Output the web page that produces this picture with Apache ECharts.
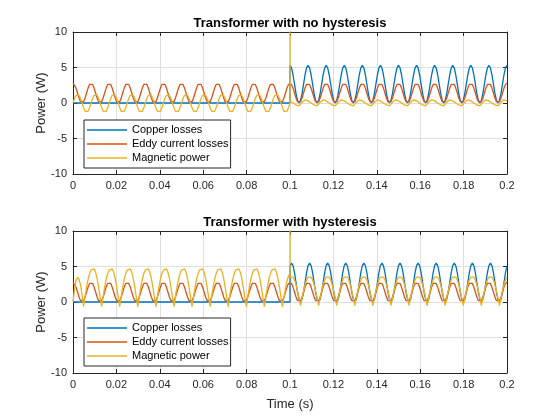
<!DOCTYPE html>
<html>
<head>
<meta charset="utf-8">
<title>Transformer losses</title>
<script src="https://cdn.jsdelivr.net/npm/echarts@6/dist/echarts.min.js"></script>
<style>
  html, body { margin: 0; padding: 0; background: #fff; }
  #main { width: 560px; height: 420px; }
</style>
</head>
<body>
<div id="main"></div>
<script>
// names and tick labels
const seriesNames = ['Copper losses', 'Eddy current losses', 'Magnetic power'];
const plotTitles = ['Transformer with no hysteresis', 'Transformer with hysteresis'];
const timeTicks = [0, 0.02, 0.04, 0.06, 0.08, 0.1, 0.12, 0.14, 0.16, 0.18, 0.2];
const powerTicks = [-10, -5, 0, 5, 10];

// sample instants: 12 samples per 120 Hz power period, load switched in at 0.1 s
// (0.1 s appears three times: value before, at and after the switching)
const sampleStep = 1 / 1440;
const switchTime = 0.1;
const time = [];
for (let i = 0; i < 144; i++) time.push(i * sampleStep);
time.push(switchTime, switchTime, switchTime);
for (let i = 145; i <= 288; i++) time.push(i * sampleStep);

// values (W); rows = one 1/120 s period
const copperTop = [
  0, 0, 0, 0, 0, 0, 0, 0, 0, 0, 0, 0,
  0, 0, 0, 0, 0, 0, 0, 0, 0, 0, 0, 0,
  0, 0, 0, 0, 0, 0, 0, 0, 0, 0, 0, 0,
  0, 0, 0, 0, 0, 0, 0, 0, 0, 0, 0, 0,
  0, 0, 0, 0, 0, 0, 0, 0, 0, 0, 0, 0,
  0, 0, 0, 0, 0, 0, 0, 0, 0, 0, 0, 0,
  0, 0, 0, 0, 0, 0, 0, 0, 0, 0, 0, 0,
  0, 0, 0, 0, 0, 0, 0, 0, 0, 0, 0, 0,
  0, 0, 0, 0, 0, 0, 0, 0, 0, 0, 0, 0,
  0, 0, 0, 0, 0, 0, 0, 0, 0, 0, 0, 0,
  0, 0, 0, 0, 0, 0, 0, 0, 0, 0, 0, 0,
  0, 0, 0, 0, 0, 0, 0, 0, 0, 0, 0, 0,
  0, 5.3, 5.3,
  4.95, 3.98, 2.65, 1.33, 0.36, 0, 0.36, 1.33, 2.65, 3.98, 4.95, 5.3,
  4.95, 3.98, 2.65, 1.33, 0.36, 0, 0.36, 1.33, 2.65, 3.98, 4.95, 5.3,
  4.95, 3.98, 2.65, 1.33, 0.36, 0, 0.36, 1.33, 2.65, 3.98, 4.95, 5.3,
  4.95, 3.98, 2.65, 1.33, 0.36, 0, 0.36, 1.33, 2.65, 3.98, 4.95, 5.3,
  4.95, 3.98, 2.65, 1.33, 0.36, 0, 0.36, 1.33, 2.65, 3.98, 4.95, 5.3,
  4.95, 3.98, 2.65, 1.33, 0.36, 0, 0.36, 1.33, 2.65, 3.98, 4.95, 5.3,
  4.95, 3.98, 2.65, 1.33, 0.36, 0, 0.36, 1.33, 2.65, 3.98, 4.95, 5.3,
  4.95, 3.98, 2.65, 1.33, 0.36, 0, 0.36, 1.33, 2.65, 3.98, 4.95, 5.3,
  4.95, 3.98, 2.65, 1.33, 0.36, 0, 0.36, 1.33, 2.65, 3.98, 4.95, 5.3,
  4.95, 3.98, 2.65, 1.33, 0.36, 0, 0.36, 1.33, 2.65, 3.98, 4.95, 5.3,
  4.95, 3.98, 2.65, 1.33, 0.36, 0, 0.36, 1.33, 2.65, 3.98, 4.95, 5.3,
  4.95, 3.98, 2.65, 1.33, 0.36, 0, 0.36, 1.33, 2.65, 3.98, 4.95, 5.3
];

const copperBottom = [
  0, 0, 0, 0, 0, 0, 0, 0, 0, 0, 0, 0,
  0, 0, 0, 0, 0, 0, 0, 0, 0, 0, 0, 0,
  0, 0, 0, 0, 0, 0, 0, 0, 0, 0, 0, 0,
  0, 0, 0, 0, 0, 0, 0, 0, 0, 0, 0, 0,
  0, 0, 0, 0, 0, 0, 0, 0, 0, 0, 0, 0,
  0, 0, 0, 0, 0, 0, 0, 0, 0, 0, 0, 0,
  0, 0, 0, 0, 0, 0, 0, 0, 0, 0, 0, 0,
  0, 0, 0, 0, 0, 0, 0, 0, 0, 0, 0, 0,
  0, 0, 0, 0, 0, 0, 0, 0, 0, 0, 0, 0,
  0, 0, 0, 0, 0, 0, 0, 0, 0, 0, 0, 0,
  0, 0, 0, 0, 0, 0, 0, 0, 0, 0, 0, 0,
  0, 0, 0, 0, 0, 0, 0, 0, 0, 0, 0, 0,
  0, 5.13, 5.13,
  5.5, 5.13, 4.13, 2.75, 1.38, 0.37, 0, 0.37, 1.38, 2.75, 4.13, 5.13,
  5.5, 5.13, 4.13, 2.75, 1.38, 0.37, 0, 0.37, 1.38, 2.75, 4.13, 5.13,
  5.5, 5.13, 4.13, 2.75, 1.38, 0.37, 0, 0.37, 1.38, 2.75, 4.13, 5.13,
  5.5, 5.13, 4.13, 2.75, 1.38, 0.37, 0, 0.37, 1.38, 2.75, 4.13, 5.13,
  5.5, 5.13, 4.13, 2.75, 1.38, 0.37, 0, 0.37, 1.38, 2.75, 4.13, 5.13,
  5.5, 5.13, 4.13, 2.75, 1.38, 0.37, 0, 0.37, 1.38, 2.75, 4.13, 5.13,
  5.5, 5.13, 4.13, 2.75, 1.38, 0.37, 0, 0.37, 1.38, 2.75, 4.13, 5.13,
  5.5, 5.13, 4.13, 2.75, 1.38, 0.37, 0, 0.37, 1.38, 2.75, 4.13, 5.13,
  5.5, 5.13, 4.13, 2.75, 1.38, 0.37, 0, 0.37, 1.38, 2.75, 4.13, 5.13,
  5.5, 5.13, 4.13, 2.75, 1.38, 0.37, 0, 0.37, 1.38, 2.75, 4.13, 5.13,
  5.5, 5.13, 4.13, 2.75, 1.38, 0.37, 0, 0.37, 1.38, 2.75, 4.13, 5.13,
  5.5, 5.13, 4.13, 2.75, 1.38, 0.37, 0, 0.37, 1.38, 2.75, 4.13, 5.13
];

// eddy current losses look the same in both plots
const eddyLoss = [
  2.8, 2.61, 2.1, 1.4, 0.7, 0.19, 0, 0.19, 0.7, 1.4, 2.1, 2.61,
  2.8, 2.61, 2.1, 1.4, 0.7, 0.19, 0, 0.19, 0.7, 1.4, 2.1, 2.61,
  2.8, 2.61, 2.1, 1.4, 0.7, 0.19, 0, 0.19, 0.7, 1.4, 2.1, 2.61,
  2.8, 2.61, 2.1, 1.4, 0.7, 0.19, 0, 0.19, 0.7, 1.4, 2.1, 2.61,
  2.8, 2.61, 2.1, 1.4, 0.7, 0.19, 0, 0.19, 0.7, 1.4, 2.1, 2.61,
  2.8, 2.61, 2.1, 1.4, 0.7, 0.19, 0, 0.19, 0.7, 1.4, 2.1, 2.61,
  2.8, 2.61, 2.1, 1.4, 0.7, 0.19, 0, 0.19, 0.7, 1.4, 2.1, 2.61,
  2.8, 2.61, 2.1, 1.4, 0.7, 0.19, 0, 0.19, 0.7, 1.4, 2.1, 2.61,
  2.8, 2.61, 2.1, 1.4, 0.7, 0.19, 0, 0.19, 0.7, 1.4, 2.1, 2.61,
  2.8, 2.61, 2.1, 1.4, 0.7, 0.19, 0, 0.19, 0.7, 1.4, 2.1, 2.61,
  2.8, 2.61, 2.1, 1.4, 0.7, 0.19, 0, 0.19, 0.7, 1.4, 2.1, 2.61,
  2.8, 2.61, 2.1, 1.4, 0.7, 0.19, 0, 0.19, 0.7, 1.4, 2.1, 2.61,
  2.8, 2.8, 2.8,
  2.61, 2.1, 1.4, 0.7, 0.19, 0, 0.19, 0.7, 1.4, 2.1, 2.61, 2.8,
  2.61, 2.1, 1.4, 0.7, 0.19, 0, 0.19, 0.7, 1.4, 2.1, 2.61, 2.8,
  2.61, 2.1, 1.4, 0.7, 0.19, 0, 0.19, 0.7, 1.4, 2.1, 2.61, 2.8,
  2.61, 2.1, 1.4, 0.7, 0.19, 0, 0.19, 0.7, 1.4, 2.1, 2.61, 2.8,
  2.61, 2.1, 1.4, 0.7, 0.19, 0, 0.19, 0.7, 1.4, 2.1, 2.61, 2.8,
  2.61, 2.1, 1.4, 0.7, 0.19, 0, 0.19, 0.7, 1.4, 2.1, 2.61, 2.8,
  2.61, 2.1, 1.4, 0.7, 0.19, 0, 0.19, 0.7, 1.4, 2.1, 2.61, 2.8,
  2.61, 2.1, 1.4, 0.7, 0.19, 0, 0.19, 0.7, 1.4, 2.1, 2.61, 2.8,
  2.61, 2.1, 1.4, 0.7, 0.19, 0, 0.19, 0.7, 1.4, 2.1, 2.61, 2.8,
  2.61, 2.1, 1.4, 0.7, 0.19, 0, 0.19, 0.7, 1.4, 2.1, 2.61, 2.8,
  2.61, 2.1, 1.4, 0.7, 0.19, 0, 0.19, 0.7, 1.4, 2.1, 2.61, 2.8,
  2.61, 2.1, 1.4, 0.7, 0.19, 0, 0.19, 0.7, 1.4, 2.1, 2.61, 2.8
];

const magneticTop = [
  0, 0.63, 1.08, 1.25, 1.08, 0.63, 0, -0.68, -1.17, -1.35, -1.17, -0.68,
  0, 0.63, 1.08, 1.25, 1.08, 0.63, 0, -0.68, -1.17, -1.35, -1.17, -0.68,
  0, 0.63, 1.08, 1.25, 1.08, 0.63, 0, -0.68, -1.17, -1.35, -1.17, -0.68,
  0, 0.63, 1.08, 1.25, 1.08, 0.63, 0, -0.68, -1.17, -1.35, -1.17, -0.68,
  0, 0.63, 1.08, 1.25, 1.08, 0.63, 0, -0.68, -1.17, -1.35, -1.17, -0.68,
  0, 0.63, 1.08, 1.25, 1.08, 0.63, 0, -0.68, -1.17, -1.35, -1.17, -0.68,
  0, 0.63, 1.08, 1.25, 1.08, 0.63, 0, -0.68, -1.17, -1.35, -1.17, -0.68,
  0, 0.63, 1.08, 1.25, 1.08, 0.63, 0, -0.68, -1.17, -1.35, -1.17, -0.68,
  0, 0.63, 1.08, 1.25, 1.08, 0.63, 0, -0.68, -1.17, -1.35, -1.17, -0.68,
  0, 0.63, 1.08, 1.25, 1.08, 0.63, 0, -0.68, -1.17, -1.35, -1.17, -0.68,
  0, 0.63, 1.08, 1.25, 1.08, 0.63, 0, -0.68, -1.17, -1.35, -1.17, -0.68,
  0, 0.63, 1.08, 1.25, 1.08, 0.63, 0, -0.68, -1.17, -1.35, -1.17, -0.68,
  0, 200, 0.3,
  0.15, 0, -0.15, -0.28, -0.37, -0.4, -0.2, 0.1, 0.35, 0.45, 0.4, 0.3,
  0.15, 0, -0.15, -0.28, -0.37, -0.4, -0.2, 0.1, 0.35, 0.45, 0.4, 0.3,
  0.15, 0, -0.15, -0.28, -0.37, -0.4, -0.2, 0.1, 0.35, 0.45, 0.4, 0.3,
  0.15, 0, -0.15, -0.28, -0.37, -0.4, -0.2, 0.1, 0.35, 0.45, 0.4, 0.3,
  0.15, 0, -0.15, -0.28, -0.37, -0.4, -0.2, 0.1, 0.35, 0.45, 0.4, 0.3,
  0.15, 0, -0.15, -0.28, -0.37, -0.4, -0.2, 0.1, 0.35, 0.45, 0.4, 0.3,
  0.15, 0, -0.15, -0.28, -0.37, -0.4, -0.2, 0.1, 0.35, 0.45, 0.4, 0.3,
  0.15, 0, -0.15, -0.28, -0.37, -0.4, -0.2, 0.1, 0.35, 0.45, 0.4, 0.3,
  0.15, 0, -0.15, -0.28, -0.37, -0.4, -0.2, 0.1, 0.35, 0.45, 0.4, 0.3,
  0.15, 0, -0.15, -0.28, -0.37, -0.4, -0.2, 0.1, 0.35, 0.45, 0.4, 0.3,
  0.15, 0, -0.15, -0.28, -0.37, -0.4, -0.2, 0.1, 0.35, 0.45, 0.4, 0.3,
  0.15, 0, -0.15, -0.28, -0.37, -0.4, -0.2, 0.1, 0.35, 0.45, 0.4, 0.3
];

const magneticBottom = [
  0, 1.8, 3.0, 3.5, 3.2, 2.4, 1.0, -0.65, 0.8, 2.1, 3.2, 4.0,
  4.5, 4.72, 4.68, 4.2, 3.3, 2.1, 0.7, -0.65, 0.8, 2.1, 3.2, 4.0,
  4.5, 4.72, 4.68, 4.2, 3.3, 2.1, 0.7, -0.65, 0.8, 2.1, 3.2, 4.0,
  4.5, 4.72, 4.68, 4.2, 3.3, 2.1, 0.7, -0.65, 0.8, 2.1, 3.2, 4.0,
  4.5, 4.72, 4.68, 4.2, 3.3, 2.1, 0.7, -0.65, 0.8, 2.1, 3.2, 4.0,
  4.5, 4.72, 4.68, 4.2, 3.3, 2.1, 0.7, -0.65, 0.8, 2.1, 3.2, 4.0,
  4.5, 4.72, 4.68, 4.2, 3.3, 2.1, 0.7, -0.65, 0.8, 2.1, 3.2, 4.0,
  4.5, 4.72, 4.68, 4.2, 3.3, 2.1, 0.7, -0.65, 0.8, 2.1, 3.2, 4.0,
  4.5, 4.72, 4.68, 4.2, 3.3, 2.1, 0.7, -0.65, 0.8, 2.1, 3.2, 4.0,
  4.5, 4.72, 4.68, 4.2, 3.3, 2.1, 0.7, -0.65, 0.8, 2.1, 3.2, 4.0,
  4.5, 4.72, 4.68, 4.2, 3.3, 2.1, 0.7, -0.65, 0.8, 2.1, 3.2, 4.0,
  4.5, 4.72, 4.68, 4.2, 3.3, 2.1, 0.7, -0.65, 0.7, 1.9, 3.0, 3.7,
  4.0, 200, 3.51,
  3.65, 3.51, 3.09, 2.43, 1.58, 0.57, -0.5, 0.57, 1.58, 2.43, 3.09, 3.51,
  3.65, 3.51, 3.09, 2.43, 1.58, 0.57, -0.5, 0.57, 1.58, 2.43, 3.09, 3.51,
  3.65, 3.51, 3.09, 2.43, 1.58, 0.57, -0.5, 0.57, 1.58, 2.43, 3.09, 3.51,
  3.65, 3.51, 3.09, 2.43, 1.58, 0.57, -0.5, 0.57, 1.58, 2.43, 3.09, 3.51,
  3.65, 3.51, 3.09, 2.43, 1.58, 0.57, -0.5, 0.57, 1.58, 2.43, 3.09, 3.51,
  3.65, 3.51, 3.09, 2.43, 1.58, 0.57, -0.5, 0.57, 1.58, 2.43, 3.09, 3.51,
  3.65, 3.51, 3.09, 2.43, 1.58, 0.57, -0.5, 0.57, 1.58, 2.43, 3.09, 3.51,
  3.65, 3.51, 3.09, 2.43, 1.58, 0.57, -0.5, 0.57, 1.58, 2.43, 3.09, 3.51,
  3.65, 3.51, 3.09, 2.43, 1.58, 0.57, -0.5, 0.57, 1.58, 2.43, 3.09, 3.51,
  3.65, 3.51, 3.09, 2.43, 1.58, 0.57, -0.5, 0.57, 1.58, 2.43, 3.09, 3.51,
  3.65, 3.51, 3.09, 2.43, 1.58, 0.57, -0.5, 0.57, 1.58, 2.43, 3.09, 3.51,
  3.65, 3.51, 3.09, 2.43, 1.58, 0.57, -0.5, 0.57, 1.58, 2.43, 3.09, 3.51
];

const plots = [
  [copperTop, eddyLoss, magneticTop],
  [copperBottom, eddyLoss, magneticBottom]
];

const colors = ['#0072BD', '#D95319', '#EDB120'];
const axisColor = '#262626';
const gridColor = '#dfdfdf';
const font = '"Liberation Sans", Arial, Helvetica, sans-serif';
const gridTops = [32, 231];
const legendTops = [120, 318];

const pairs = vals => vals.map((v, k) => [time[k], v]);

function timeAxis(g, position, main) {
  return {
    type: 'value',
    gridIndex: g,
    position: position,
    min: timeTicks[0],
    max: timeTicks[timeTicks.length - 1],
    interval: timeTicks[1] - timeTicks[0],
    axisLine: { show: true, onZero: false, lineStyle: { color: axisColor, width: 1 } },
    axisTick: { show: true, inside: true, length: 4, lineStyle: { color: axisColor } },
    axisLabel: { show: main, color: axisColor, fontSize: 11, fontFamily: font, margin: 6 },
    splitLine: { show: main, lineStyle: { color: gridColor, width: 1 } },
    name: main ? (g === 1 ? 'Time (s)' : '') : plotTitles[g],
    nameLocation: 'middle',
    nameGap: main ? 25 : 2,
    nameMoveOverlap: false,
    nameTextStyle: main
      ? { color: axisColor, fontSize: 13, fontFamily: font }
      : { color: '#000', fontSize: 13, fontWeight: 'bold', fontFamily: font }
  };
}

function powerAxis(g, position, main) {
  return {
    type: 'value',
    gridIndex: g,
    position: position,
    min: powerTicks[0],
    max: powerTicks[powerTicks.length - 1],
    interval: powerTicks[1] - powerTicks[0],
    axisLine: { show: true, onZero: false, lineStyle: { color: axisColor, width: 1 } },
    axisTick: { show: true, inside: true, length: 4, lineStyle: { color: axisColor } },
    axisLabel: { show: main, color: axisColor, fontSize: 11, fontFamily: font, margin: 6 },
    splitLine: { show: main, lineStyle: { color: gridColor, width: 1 } },
    name: main ? 'Power (W)' : '',
    nameLocation: 'middle',
    nameGap: 25,
    nameMoveOverlap: false,
    nameTextStyle: { color: axisColor, fontSize: 13, fontFamily: font }
  };
}

const series = [];
plots.forEach((plot, g) => {
  plot.forEach((vals, s) => {
    series.push({
      name: seriesNames[s],
      type: 'line',
      xAxisIndex: g,
      yAxisIndex: g,
      symbol: 'none',
      clip: true,
      lineStyle: { color: colors[s], width: 1.3 },
      itemStyle: { color: colors[s] },
      data: pairs(vals)
    });
  });
});

const chart = echarts.init(document.getElementById('main'));
chart.setOption({
  animation: false,
  backgroundColor: '#fff',
  grid: gridTops.map(top => ({ left: 73, top: top, width: 434, height: 142 })),
  xAxis: [timeAxis(0, 'bottom', true), timeAxis(1, 'bottom', true),
          timeAxis(0, 'top', false), timeAxis(1, 'top', false)],
  yAxis: [powerAxis(0, 'left', true), powerAxis(1, 'left', true),
          powerAxis(0, 'right', false), powerAxis(1, 'right', false)],
  legend: legendTops.map(top => ({
    data: seriesNames,
    orient: 'vertical',
    left: 84,
    top: top,
    icon: 'rect',
    itemWidth: 40,
    itemHeight: 1.5,
    itemGap: 0,
    padding: [3, 2, 3, 3],
    selectedMode: false,
    backgroundColor: '#fff',
    borderColor: axisColor,
    borderWidth: 1,
    borderRadius: 0,
    textStyle: { color: '#000', fontSize: 11, fontFamily: font, lineHeight: 14 }
  })),
  series: series
});
</script>
</body>
</html>
